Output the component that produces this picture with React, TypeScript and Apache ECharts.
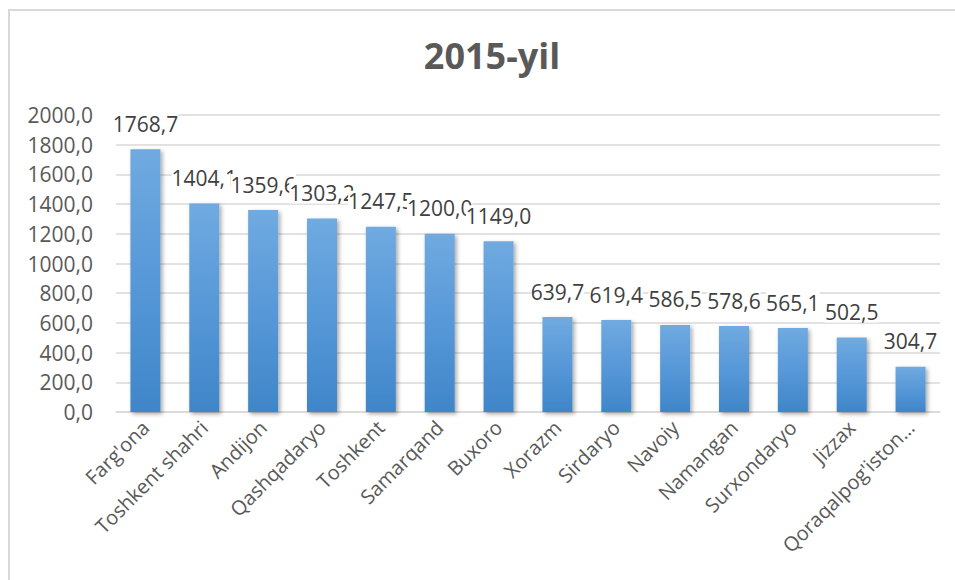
import React, { useEffect, useRef } from "react";
import * as echarts from "echarts";

const TITLE = "2015-yil";
const CATEGORIES = [
  "Farg'ona",
  "Toshkent shahri",
  "Andijon",
  "Qashqadaryo",
  "Toshkent",
  "Samarqand",
  "Buxoro",
  "Xorazm",
  "Sirdaryo",
  "Navoiy",
  "Namangan",
  "Surxondaryo",
  "Jizzax",
  "Qoraqalpog'iston Respublikasi",
];
const VALUES = [1768.7, 1404.1, 1359.6, 1303.2, 1247.5, 1200.0, 1149.0, 639.7, 619.4, 586.5, 578.6, 565.1, 502.5, 304.7];
const Y_MIN = 0;
const Y_MAX = 2000;
const Y_STEP = 200;

const fmt = (v: number) => v.toFixed(1).replace(".", ",");
const FONT = "'Open Sans', 'Noto Sans', sans-serif";

export default function App() {
  const ref = useRef<HTMLDivElement>(null);
  useEffect(() => {
    if (!ref.current) return;
    const chart = echarts.init(ref.current, undefined, { renderer: "svg" });
    chart.setOption({
      animation: false,
      backgroundColor: "#ffffff",
      title: {
        text: TITLE,
        left: 487,
        top: 32,
        textAlign: "center",
        textStyle: { fontFamily: FONT, fontSize: 36, fontWeight: "bold", color: "#595959" },
      },
      graphic: [
        {
          type: "rect",
          shape: { x: 9, y: 10, width: 1000, height: 1000 },
          style: { fill: "none", stroke: "#d9d9d9", lineWidth: 2 },
          silent: true,
        },
      ],
      grid: { left: 116, right: 15, top: 115, bottom: 168, containLabel: false },
      xAxis: {
        type: "category",
        data: CATEGORIES,
        axisLine: { show: true, lineStyle: { color: "#d9d9d9", width: 1.5 } },
        axisTick: { show: false },
        axisLabel: {
          interval: 0,
          rotate: 45,
          margin: 12,
          fontFamily: FONT,
          fontSize: 20,
          color: "#595959",
          formatter: (v: string) => (v.length > 20 ? v.slice(0, 16) + "…" : v),
        },
      },
      yAxis: {
        type: "value",
        min: Y_MIN,
        max: Y_MAX,
        interval: Y_STEP,
        axisLine: { show: false },
        axisTick: { show: false },
        axisLabel: {
          margin: 23,
          fontFamily: FONT,
          fontSize: 21,
          color: "#595959",
          formatter: (v: number) => fmt(v),
        },
        splitLine: { lineStyle: { color: "#d9d9d9", width: 1.5 } },
      },
      series: [
        {
          type: "bar",
          data: VALUES,
          barWidth: 30,
          itemStyle: {
            color: new echarts.graphic.LinearGradient(0, 0, 0, 1, [
              { offset: 0, color: "#70aae0" },
              { offset: 0.5, color: "#5798d8" },
              { offset: 1, color: "#3f86c9" },
            ]),
            shadowColor: "rgba(0,0,0,0.35)",
            shadowBlur: 4,
            shadowOffsetX: 2,
            shadowOffsetY: 2,
          },
          label: {
            show: true,
            position: "top",
            distance: 15,
            fontFamily: FONT,
            fontSize: 21,
            color: "#404040",
            backgroundColor: "#ffffff",
            formatter: (p: any) => fmt(p.value),
          },
        },
      ],
    });
    return () => chart.dispose();
  }, []);
  return <div ref={ref} style={{ position: "absolute", left: 0, top: 0, width: 955, height: 580 }} />;
}
